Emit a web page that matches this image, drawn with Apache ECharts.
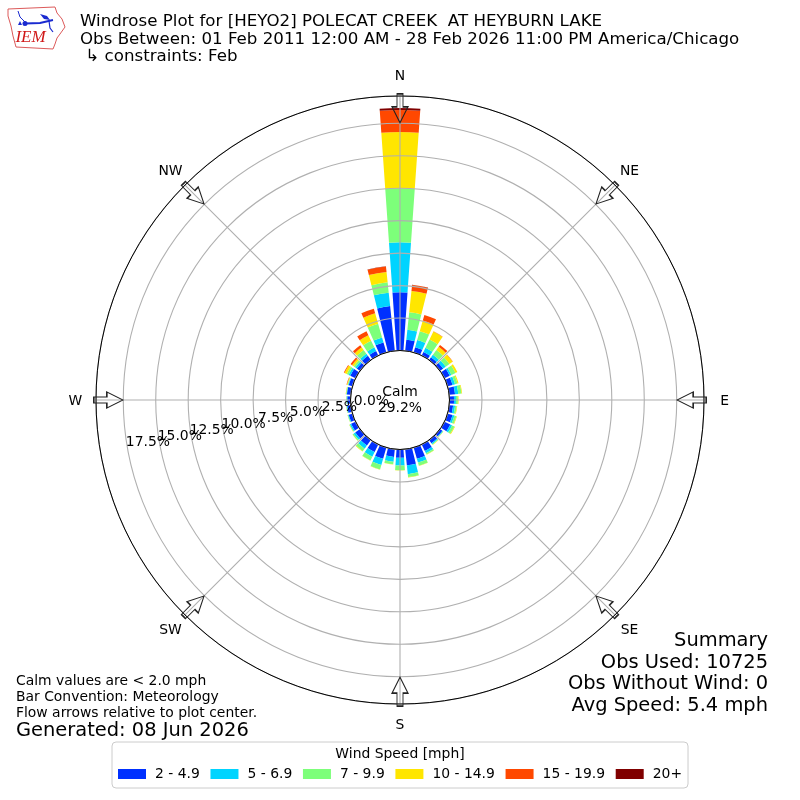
<!DOCTYPE html>
<html><head><meta charset="utf-8">
<style>html,body{margin:0;padding:0;background:#fff}#c{width:800px;height:800px}</style>
<script src="https://cdn.jsdelivr.net/npm/echarts@6/dist/echarts.min.js"></script>
</head><body><div id="c"></div>
<script>
var directions = [0,10,20,30,40,50,60,70,80,90,100,110,120,130,140,150,160,170,180,190,200,210,220,230,240,250,260,270,280,290,300,310,320,330,340,350];
var speedNames = ['2 - 4.9','5 - 6.9','7 - 9.9','10 - 14.9','15 - 19.9','20+'];
var speedColors = ['#0030ff','#00d4ff','#7dff7a','#ffe600','#ff4800','#800000'];
var s2to5   = [4.48,.85,.42,.31,.25,.30,.45,.40,.45,.35,.30,.40,.50,.22,.30,.55,.90,1.24,.64,.60,.90,.65,.52,.45,.38,.30,.28,.25,.30,.30,.45,.30,.40,.38,.80,3.46];
var s5to7   = [3.85,.77,.57,.35,.25,.25,.15,.20,.25,.15,.15,.15,.15,.05,.10,.20,.30,.69,.60,.37,.50,.40,.30,.15,.10,.05,.04,.05,.03,.05,.15,.15,.20,.32,.40,1.04];
var s7to10  = [4.17,1.36,.71,.71,.45,.35,.35,.20,.25,.15,.13,.15,.20,.03,.05,.10,.25,.23,.36,.19,.35,.32,.25,.10,.05,.04,.03,.03,.04,.05,.15,.15,.35,.57,1.10,.80];
var s10to15 = [4.32,1.65,.85,.68,.30,.30,.15,.08,.05,.05,.04,.05,.05,.02,.02,.02,.02,.02,.01,.02,.02,.02,.03,.02,.02,.01,.01,.01,.03,.05,.20,.15,.25,.47,.83,.80];
var s15to20 = [1.70,.46,.45,.02,.18,.02,0,0,0,0,0,0,0,0,0,0,0,0,0,0,0,0,0,0,0,0,0,0,0,.03,.05,.14,.20,.34,.37,.43];
var s20up   = [.15,.03,0,0,0,0,0,0,0,0,0,0,0,0,0,0,0,0,0,0,0,0,0,0,0,0,0,0,0,0,0,0,0,0,0,.02];
var speedSeries = [s2to5,s5to7,s7to10,s10to15,s15to20,s20up];
var compassLabels = ['N','NE','E','SE','S','SW','W','NW'];
var compassAngles = [0,45,90,135,180,225,270,315];
var radialTicks = [0,2.5,5,7.5,10,12.5,15,17.5];
var titleLines = ['Windrose Plot for [HEYO2] POLECAT CREEK  AT HEYBURN LAKE','Obs Between: 01 Feb 2011 12:00 AM - 28 Feb 2026 11:00 PM America/Chicago',' \u21B3 constraints: Feb'];
var noteLines = ['Calm values are < 2.0 mph','Bar Convention: Meteorology','Flow arrows relative to plot center.'];
var generated = 'Generated: 08 Jun 2026';
var summaryLines = ['Summary','Obs Used: 10725','Obs Without Wind: 0','Avg Speed: 5.4 mph'];
var calmLabel = 'Calm';
var calmValue = '29.2%';

var FONT = '"DejaVu Sans"';
var RMAX = 19.6;
var polarRadius = [49.5, 304];
var arrowPath = 'path://M-3,-14 L3,-14 L3,-1 L8,-1 L0,15 L-8,-1 L-3,-1 Z';

function text(x,y,str,size,align,extra){
  return {type:'text',z:20,style:Object.assign({x:x,y:y,text:str,font:size+'px '+FONT,fill:'#000',textAlign:align||'left',textVerticalAlign:'middle'},extra||{})};
}
var graphicEls = [];
titleLines.forEach(function(t,i){graphicEls.push(text(80,[22,39.5,56.5][i],t,16.67));});
noteLines.forEach(function(t,i){graphicEls.push(text(16,[681,697,713][i],t,13.9));});
graphicEls.push(text(16,731,generated,19.44));
summaryLines.forEach(function(t,i){graphicEls.push(text(768,[641,663,684,706][i],t,19.44,'right'));});
graphicEls.push(text(400,392,calmLabel,13.9,'center'));
graphicEls.push(text(400,408,calmValue,13.9,'center'));
graphicEls.push(text(400,754,'Wind Speed [mph]',13.9,'center'));
// logo
graphicEls.push({type:'polygon',z:20,shape:{points:[[8,9],[55,7],[57,13],[62,19],[65,27],[60,34],[57,38],[55,44],[53,49],[16,47],[13,36],[11,26],[8,16]]},style:{fill:'#fff',stroke:'#dc5a5a',lineWidth:1}});
graphicEls.push({type:'polyline',z:21,shape:{points:[[25,23.5],[40,23],[53,20]]},style:{stroke:'#1a2ad0',lineWidth:2,fill:null}});
graphicEls.push({type:'polyline',z:21,shape:{points:[[18,11],[20,17],[26,23]]},style:{stroke:'#1a2ad0',lineWidth:1,fill:null}});
graphicEls.push({type:'polygon',z:21,shape:{points:[[40,14],[47,16],[50,20],[44,19]]},style:{fill:'#1a2ad0'}});
graphicEls.push({type:'circle',z:21,shape:{cx:25,cy:23.5,r:2.5},style:{fill:'#1a2ad0'}});
graphicEls.push({type:'polygon',z:21,shape:{points:[[20,21],[22,25],[18,25]]},style:{fill:'#1a2ad0'}});
graphicEls.push({type:'polyline',z:21,shape:{points:[[49,21],[50,28],[53,32]]},style:{stroke:'#1a2ad0',lineWidth:1.2,fill:null}});
graphicEls.push({type:'text',z:21,style:{x:30.5,y:38,text:'IEM',font:'italic 17px "Liberation Serif"',fill:'#d01818',textAlign:'center',textVerticalAlign:'middle'}});

var series = speedNames.map(function(name,i){
  return {type:'bar',name:name,coordinateSystem:'polar',polarIndex:0,stack:'wind',barCategoryGap:'20%',z:2,
    itemStyle:{color:speedColors[i]},data:speedSeries[i]};
});
series.push({type:'scatter',name:'arrows',coordinateSystem:'polar',polarIndex:1,z:7,silent:true,
  symbol:arrowPath,symbolSize:[16,29],
  itemStyle:{color:'transparent',borderColor:'#222',borderWidth:1.2,opacity:1},
  data:compassAngles.map(function(a){return {value:[18.65,a],symbolRotate:-a};})});
series.push({type:'scatter',name:'rlabels',coordinateSystem:'polar',polarIndex:1,z:8,silent:true,
  symbolSize:1,itemStyle:{color:'transparent',opacity:1},
  label:{show:true,position:'inside',offset:[20,-8],color:'#000',textBorderWidth:0,fontFamily:FONT,fontSize:13.9,
    formatter:function(p){return p.value[0].toFixed(1)+'%';}},
  data:radialTicks.map(function(v){return [v,259.5];})});
series.push({type:'scatter',name:'compass',coordinateSystem:'polar',polarIndex:1,z:8,silent:true,clip:false,
  symbolSize:1,itemStyle:{color:'transparent',opacity:1},
  label:{show:true,position:'inside',offset:[0,1],color:'#000',textBorderWidth:0,fontFamily:FONT,fontSize:13.9,
    formatter:function(p){return compassLabels[p.dataIndex];}},
  data:compassAngles.map(function(a){return {value:[21.18,a]};})});

var chart = echarts.init(document.getElementById('c'),null,{renderer:'canvas'});
chart.setOption({
  animation:false,
  backgroundColor:'#fff',
  textStyle:{fontFamily:FONT},
  polar:[{center:[400,400],radius:polarRadius},{center:[400,400],radius:polarRadius}],
  angleAxis:[
    {polarIndex:0,type:'category',data:directions,startAngle:95,clockwise:true,show:false},
    {polarIndex:1,type:'value',min:0,max:360,interval:45,startAngle:90,clockwise:true,z:6,
     axisLine:{show:true,lineStyle:{color:'#000',width:1}},axisTick:{show:false},
     axisLabel:{show:false},
     splitLine:{show:true,lineStyle:{color:'#b0b0b0',width:1.1}}}
  ],
  radiusAxis:[
    {polarIndex:0,type:'value',min:0,max:RMAX,show:false},
    {polarIndex:1,type:'value',min:0,max:RMAX,interval:2.5,z:5,
     axisLine:{show:false},axisTick:{show:false},axisLabel:{show:false},
     splitLine:{show:true,lineStyle:{color:'#b0b0b0',width:1.1}}}
  ],
  legend:{show:true,data:speedNames,left:112,top:742,orient:'horizontal',icon:'rect',
    itemWidth:28,itemHeight:10,itemGap:10.7,
    padding:[25,6,7,6],backgroundColor:'#fff',borderColor:'#ccc',borderWidth:1,borderRadius:4,
    textStyle:{color:'#000',fontFamily:FONT,fontSize:13.9,padding:[0,0,0,4]},z:15},
  graphic:{elements:graphicEls},
  series:series
});
</script></body></html>
